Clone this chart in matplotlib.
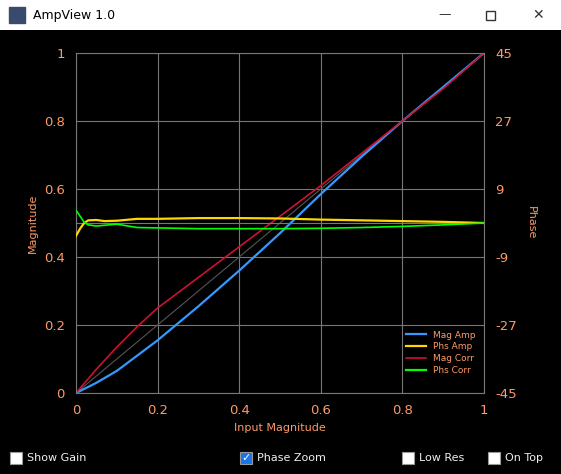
import matplotlib.pyplot as plt
from matplotlib.patches import Rectangle

plt.rcParams['axes.unicode_minus'] = False

# input magnitude samples
x = [0, 0.05, 0.1, 0.15, 0.2, 0.25, 0.3, 0.4, 0.5, 0.6, 0.7, 0.8, 0.9, 1.0]
mag_amp = [0, 0.03, 0.065, 0.11, 0.155, 0.205, 0.255, 0.36, 0.47, 0.585, 0.695, 0.80, 0.90, 1.0]
mag_corr = [0, 0.07, 0.135, 0.195, 0.25, 0.295, 0.34, 0.43, 0.52, 0.61, 0.705, 0.80, 0.895, 1.0]

xp = [0, 0.01, 0.02, 0.03, 0.05, 0.07, 0.1, 0.15, 0.2, 0.3, 0.4, 0.5, 0.6, 0.7, 0.8, 0.9, 1.0]
phs_amp = [-3.4, -1.5, 0.0, 0.7, 0.8, 0.5, 0.6, 1.1, 1.1, 1.3, 1.3, 1.2, 0.9, 0.7, 0.5, 0.3, 0.0]
phs_corr = [3.4, 1.8, 0.2, -0.5, -0.8, -0.6, -0.3, -1.2, -1.3, -1.5, -1.5, -1.5, -1.4, -1.2, -0.9, -0.5, 0.0]

W, H = 561, 474
fig = plt.figure(figsize=(W / 100, H / 100), dpi=100, facecolor='black')

# window title bar
bar = fig.add_axes([0, 1 - 30 / H, 1, 30 / H])
bar.set_facecolor('white')
bar.set_xticks([]); bar.set_yticks([])
for s in bar.spines.values():
    s.set_visible(False)
bar.set_xlim(0, W); bar.set_ylim(0, 30)
bar.add_patch(Rectangle((9, 7), 16, 16, color='#3a4a6a'))
bar.text(33, 15, 'AmpView 1.0', va='center', fontsize=9, color='black')
bar.text(445, 15, '\u2014', va='center', ha='center', fontsize=9, color='#333')
bar.add_patch(Rectangle((486, 10), 9, 9, fill=False, ec='#333', lw=1))
bar.text(538, 15, '\u2715', va='center', ha='center', fontsize=10, color='#333')

ax = fig.add_axes([76 / W, 1 - 393 / H, 408 / W, 340 / H])
ax.set_facecolor('black')
ax.set_xlim(0, 1); ax.set_ylim(0, 1)
ax.grid(color='#777777', lw=0.8)
ax.plot([0, 1], [0, 1], color='#555555', lw=0.8)
ax.plot(x, mag_amp, color='#3399ff', lw=1.6, label='Mag Amp')
ax.plot([], [], color='#ffd700', lw=1.6, label='Phs Amp')
ax.plot(x, mag_corr, color='#cc1133', lw=1.2, label='Mag Corr')
ax.plot([], [], color='#00ff00', lw=1.6, label='Phs Corr')
ax.set_xticks([0, 0.2, 0.4, 0.6, 0.8, 1])
ax.set_xticklabels(['0', '0.2', '0.4', '0.6', '0.8', '1'])
ax.set_yticks([0, 0.2, 0.4, 0.6, 0.8, 1])
ax.set_yticklabels(['0', '0.2', '0.4', '0.6', '0.8', '1'])
ax.tick_params(colors='#ff9966', labelsize=9.5, length=0, pad=8)
for s in ax.spines.values():
    s.set_color('#777777')
ax.set_xlabel('Input Magnitude', color='#ff9966', fontsize=8)
ax.set_ylabel('Magnitude', color='#ff9966', fontsize=8)

ax2 = ax.twinx()
ax2.set_ylim(-45, 45)
ax2.axhline(0, color='#777777', lw=0.8)
ax2.plot(xp, phs_amp, color='#ffd700', lw=1.6)
ax2.plot(xp, phs_corr, color='#00ff00', lw=1.2)
ax2.set_yticks([-45, -27, -9, 9, 27, 45])
ax2.tick_params(colors='#ff9966', labelsize=9.5, length=0, pad=8)
ax2.set_ylabel('Phase', color='#ff9966', fontsize=8, rotation=270, labelpad=14)
for s in ax2.spines.values():
    s.set_visible(False)

leg = ax.legend(loc='lower right', fontsize=6.5, frameon=False, handlelength=2.2,
                labelspacing=0.3, bbox_to_anchor=(1.0, 0.03))
for t in leg.get_texts():
    t.set_color('#ff9966')

# checkboxes along the bottom
boxes = [(10, 'Show Gain', False), (240, 'Phase Zoom', True), (402, 'Low Res', False), (488, 'On Top', False)]
for bx, label, checked in boxes:
    yy = 1 - 458 / H
    fig.patches.append(Rectangle((bx / W, yy - 6 / H), 12 / W, 12 / H, transform=fig.transFigure,
                                 fc='#1a73e8' if checked else 'white', ec='#999', lw=0.8))
    if checked:
        fig.text((bx + 6) / W, yy, '\u2713', color='white', ha='center', va='center', fontsize=8)
    fig.text((bx + 17) / W, yy, label, color='#f0f0f0', va='center', fontsize=8)

fig.savefig('out.png', dpi=100, facecolor='black')
